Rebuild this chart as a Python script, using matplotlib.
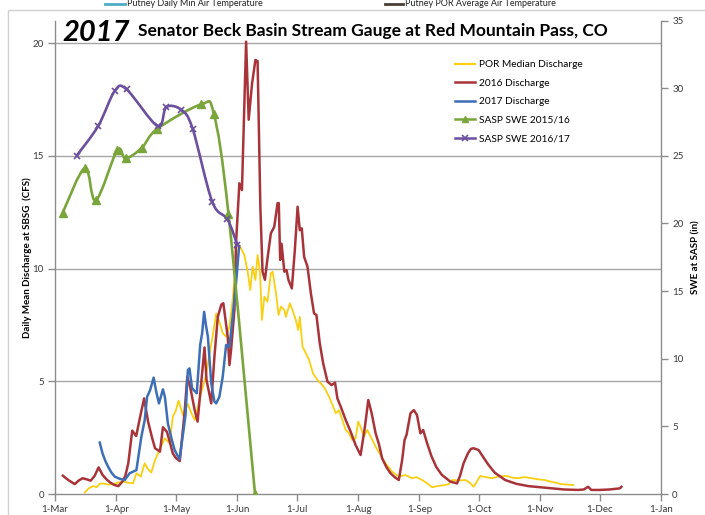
import numpy as np
import matplotlib
matplotlib.use("Agg")
import matplotlib.pyplot as plt
from matplotlib.path import Path
from matplotlib.patches import PathPatch, Rectangle
from matplotlib.lines import Line2D

plt.rcParams['font.family'] = ['Lato', 'DejaVu Sans']

# ---------------- data (x = days after 1-Mar) ----------------
month_days = [0, 31, 61, 92, 122, 153, 184, 214, 245, 275, 306]
month_labels = ['1-Mar', '1-Apr', '1-May', '1-Jun', '1-Jul', '1-Aug', '1-Sep',
                '1-Oct', '1-Nov', '1-Dec', '1-Jan']

por_days = [15.1, 17, 19.3, 21, 22.5, 24.3, 26.5, 29.3, 31.5, 34.4, 37, 39.4, 41.1, 43.3,
            45.3, 47, 48.6, 50.5, 52, 53.5, 55.4, 57.9, 59.5, 61, 62.4, 64.6, 67.1, 68.8,
            70.5, 72, 73.5, 76.3, 78, 79.7, 81.4, 83, 84.7, 86.4, 88.1, 89.7, 91.1, 93.1,
            95.6, 97.3, 98.6, 99.8, 101.2, 102.3, 103.5, 104.5, 105.7, 107.3, 109, 109.9,
            111.6, 112.9, 114.1, 115.8, 116.6, 118.6, 119.9, 121.6, 122.8, 123.6, 125,
            126.7, 128.3, 130.3, 132.5, 135, 136.7, 138.4, 140.1, 141.8, 143.4, 145.1,
            146.8, 148.5, 150.1, 151.8, 153.1, 154.3, 156, 157.7, 159.4, 161.9, 164.4,
            166.9, 170.2, 173.6, 177, 180.3, 182.5, 185.4, 187.9, 190.4, 193, 197.1, 199,
            200.5, 204, 207.2, 209.5, 211.4, 213, 214.7, 217.5, 220.6, 224, 228.2, 231,
            234, 237, 240.7, 244, 247.4, 250, 253.3, 255, 258, 261.7]
por_vals = [0.07, 0.25, 0.35, 0.3, 0.45, 0.47, 0.42, 0.43, 0.5, 0.55, 0.5, 0.47, 0.92, 0.77,
            1.36, 1.1, 0.95, 1.5, 1.8, 2.1, 2.47, 2.25, 3.43, 3.7, 4.14, 3.5, 3.99, 3.6,
            3.28, 3.8, 4.39, 5.28, 6.2, 7.05, 8.01, 7.64, 7.13, 6.98, 7.42, 8.6, 9.93, 11.04,
            10.6, 9.86, 9.05, 10.08, 9.49, 10.6, 9.86, 7.72, 8.75, 8.53, 9.79, 9.86,
            8.9, 7.94, 8.31, 8.16, 7.86, 8.46, 8.16, 7.72, 7.27, 7.86, 6.53,
            6.24, 5.94, 5.35, 5.06, 4.83, 4.61, 4.31, 3.95, 3.58, 3.72, 3.28,
            2.84, 2.69, 2.39, 2.47, 3.21, 2.98, 2.54, 2.84, 2.54, 2.1, 1.73,
            1.36, 0.99, 0.77, 0.84, 0.7, 0.75, 0.62, 0.47, 0.3, 0.35, 0.4, 0.45,
            0.62, 0.6, 0.62, 0.5, 0.32, 0.55, 0.8, 0.75, 0.7, 0.78, 0.8, 0.72,
            0.7, 0.75, 0.7, 0.65, 0.62, 0.55, 0.5, 0.45, 0.42, 0.4]

q2016_days = [4, 7, 10, 12, 14, 16, 18, 20, 22, 24, 26, 28, 30, 32, 34, 35.5, 37, 39, 41, 43,
              45, 47, 49, 50.5, 53, 54.5, 56.5, 58, 59.5, 61, 63, 65.4, 66.8, 68.4, 70.5, 72,
              73.8, 75.5, 76.5, 78.9, 80.5, 82.2, 84, 85, 86, 87.2, 88.1, 88.9, 90.6, 91.4,
              93.1, 94.4, 96.5, 97.8, 99.5, 101.2, 102.3, 103.7, 104.8, 106, 107.3, 109,
              110.7, 112.4, 113, 113.7, 114.4, 115.8, 116.9, 117.9, 119.6, 121.1, 122.5,
              123.6, 124.6, 125.8, 127.5, 129.2, 130.8, 132, 133.7, 135.4, 137.6, 139.7,
              141.4, 142.6, 144.3, 146.8, 149.3, 151.8, 154.3, 156.5, 158.2, 159.9, 161.9,
              163.6, 165.2, 167.3, 169.4, 171.5, 173.6, 175.3, 176.5, 177.5, 179.5, 181.2,
              182.8, 184.5, 185.9, 187.9, 190, 192.5, 195.4, 197.5, 199.6, 203, 204.5,
              206.3, 208.5, 210, 211.4, 213.9, 216.5, 218.9, 222, 227.3, 233, 239, 245,
              250.6, 257, 264.2, 267, 269.2, 270.8, 275, 280, 285.2, 286]
q2016_vals = [0.81, 0.6, 0.44, 0.6, 0.7, 0.65, 0.59, 0.8, 1.18, 0.85, 0.65, 0.5, 0.4, 0.35,
              0.55, 0.8, 1.36, 2.81, 2.57, 3.43, 4.24, 3.21, 2.5, 2.03, 1.88, 2.96, 2.76,
              2.3, 1.8, 1.6, 1.46, 3.58, 5.2, 4.69, 3.73, 3.21, 4.91, 6.5, 5.06, 4.02, 6.09,
              7.86, 8.4, 8.46, 7.8, 6.98, 5.72, 6.39, 8.16, 11.1, 13.78, 13.48, 20.06, 16.6,
              18.2, 19.25, 19.2, 12.7, 9.86, 9.5, 10.45, 11.56, 11.85, 12.9, 12.9, 10.38,
              11.1, 9.86, 9.93, 9.49, 9.12, 10.82, 12.74, 11.7, 11.78, 10.52, 10.08, 8.9,
              8.01, 7.94, 6.68, 5.8, 4.98, 4.83, 4.94, 4.24, 3.87, 3.28, 2.76, 2.17, 1.73,
              2.98, 4.17, 3.58, 2.69, 2.2, 1.58, 1.2, 0.92, 0.75, 0.62, 1.51, 2.39, 2.62,
              3.58, 3.72, 3.5, 2.69, 2.84, 2.25, 1.7, 1.2, 0.84, 0.7, 0.55, 0.47, 0.8,
              1.36, 1.8, 2.0, 2.03, 1.95, 1.6, 1.29, 0.95, 0.62, 0.45, 0.35, 0.3,
              0.25, 0.2, 0.18, 0.2, 0.32, 0.18, 0.18, 0.2, 0.25, 0.32]

q2017_days = [22.6, 24, 25.5, 26.8, 28.5, 30.2, 32.5, 35.2, 37.7, 39.4, 41.1, 43.6, 45.3,
              46.5, 48, 49.8, 51.2, 52.5, 54.5, 55.5, 57, 58.7, 60.4, 62.9, 64.9, 65.9,
              67.1, 67.9, 69.2, 70, 71.6, 73.3, 74.3, 75.3, 76.2, 77.2, 78.9, 80.5, 81.4,
              83, 84.7, 86.4, 88.1, 89.7, 91.4, 92.5, 93]
q2017_vals = [2.28, 1.8, 1.45, 1.21, 0.95, 0.77, 0.68, 0.62, 0.92, 0.99, 1.06, 2.54, 3.28,
              4.31, 4.6, 5.16, 4.5, 4.02, 4.64, 4.3, 3.13, 2.5, 1.95, 1.54, 2.84, 3.5,
              5.5, 5.57, 4.7, 4.61, 4.47, 6.61, 7.13, 8.08, 7.5, 6.98, 4.91, 4.1, 4.02,
              4.31, 5.2, 6.61, 6.53, 7.86, 9.34, 10.5, 11.0]

swe1516_days = [3.9, 15.1, 20.6, 31.4, 35.7, 43.9, 51.7, 73.8, 80.2, 87.6, 101]
swe1516_vals = [20.8, 24.1, 21.7, 25.4, 24.8, 25.6, 27.0, 28.8, 28.1, 20.7, 0.0]

swe1617_days = [10.9, 21.8, 30.2, 36.2, 51.8, 56.2, 63.8, 69.5, 79.4, 87.1, 92.1]
swe1617_vals = [25.0, 27.2, 29.8, 29.9, 27.2, 28.6, 28.4, 27.0, 21.6, 20.3, 18.4]

title_year = '2017'
title_text = 'Senator Beck Basin Stream Gauge at Red Mountain Pass, CO'
left_label = 'Daily Mean Discharge at SBSG  (CFS)'
right_label = 'SWE at SASP (in)'
top_labels = ['Putney Daily Min Air Temperature', 'Putney POR Average Air Temperature']

c_yel = '#F9CF12'
c_red = '#A8343A'
c_blu = '#3D6FB6'
c_grn = '#79A53B'
c_pur = '#6C4F9E'
tick_col = '#3a3a3a'


def smooth_path(xs, ys):
    pts = np.column_stack([xs, ys]).astype(float)
    n = len(pts)
    verts = [pts[0]]
    codes = [Path.MOVETO]
    for i in range(n - 1):
        p0 = pts[i - 1] if i > 0 else pts[i]
        p1 = pts[i]
        p2 = pts[i + 1]
        p3 = pts[i + 2] if i + 2 < n else pts[i + 1]
        verts += [p1 + (p2 - p0) / 6.0, p2 - (p3 - p1) / 6.0, p2]
        codes += [Path.CURVE4] * 3
    return Path(verts, codes)


W, H = 705, 515
fig = plt.figure(figsize=(W / 100, H / 100), dpi=100)
fig.patch.set_facecolor('white')

# outer chart border
fig.add_artist(Rectangle((8 / W, -0.1), 1.2, (H - 10) / H + 0.1, transform=fig.transFigure,
                         fill=False, edgecolor='#d0d0d0', lw=1.0))

# legend of the chart above (only its bottom row is visible)
fig.add_artist(Line2D([105 / W, 125 / W], [1 - 4 / H] * 2, transform=fig.transFigure,
                      color='#4BACC6', lw=2))
fig.text(127 / W, 1 - 4 / H, top_labels[0], fontsize=6.5,
         ha='left', va='center', color='#222222')
fig.add_artist(Line2D([385 / W, 403 / W], [1 - 4 / H] * 2, transform=fig.transFigure,
                      color='#4a3f35', lw=2))
fig.text(405 / W, 1 - 4 / H, top_labels[1], fontsize=6.5,
         ha='left', va='center', color='#222222')

ax_l, ax_r = 55 / W, 661 / W
ax_b, ax_t = (H - 494) / H, (H - 20.5) / H
ax = fig.add_axes([ax_l, ax_b, ax_r - ax_l, ax_t - ax_b])
ax2 = ax.twinx()

ax.set_xlim(0, 306)
ax.set_ylim(0, 21)
ax2.set_ylim(0, 35)

for y in [5, 10, 15, 20]:
    ax.axhline(y, color='#a6a6a6', lw=1.0, zorder=0)

ax.plot(por_days, por_vals, color=c_yel, lw=1.3, zorder=2)
ax.plot(q2016_days, q2016_vals, color=c_red, lw=1.8, zorder=3)
ax.plot(q2017_days, q2017_vals, color=c_blu, lw=1.8, zorder=4)

ax2.add_patch(PathPatch(smooth_path(swe1516_days, swe1516_vals), fill=False,
                        edgecolor=c_grn, lw=1.9, zorder=3))
ax2.plot(swe1516_days, swe1516_vals, ls='none', marker='^', ms=5.5, color=c_grn, zorder=4)
ax2.add_patch(PathPatch(smooth_path(swe1617_days, swe1617_vals), fill=False,
                        edgecolor=c_pur, lw=1.9, zorder=3))
ax2.plot(swe1617_days, swe1617_vals, ls='none', marker='x', ms=5, mew=1.2, color=c_pur,
         zorder=4)

# spines / ticks
for a in (ax, ax2):
    a.spines['top'].set_visible(False)
    for s in ['left', 'right', 'bottom']:
        a.spines[s].set_color('#8c8c8c')
        a.spines[s].set_linewidth(1.0)
ax.spines['right'].set_visible(False)
ax2.spines['left'].set_visible(False)
ax2.spines['bottom'].set_visible(False)

ax.set_xticks(month_days)
ax.set_xticklabels(month_labels)
ax.set_yticks([0, 5, 10, 15, 20])
ax2.set_yticks([0, 5, 10, 15, 20, 25, 30, 35])
ax.tick_params(axis='both', direction='out', length=5, width=1, color='#8c8c8c',
               labelsize=7, labelcolor=tick_col, pad=3)
ax2.tick_params(axis='y', direction='out', length=5, width=1, color='#8c8c8c',
                labelsize=7, labelcolor=tick_col, pad=3)

ax.set_ylabel(left_label, fontsize=7, fontweight='bold', color='black')
ax2.set_ylabel(right_label, fontsize=7, fontweight='bold', color='black', labelpad=6)
ax.yaxis.set_label_coords(-23 / (W * (ax_r - ax_l)), 0.5)

# title
fig.text(62 / W, (H - 33) / H, title_year, fontsize=21, fontweight='bold', style='italic',
         ha='left', va='center', color='black')
fig.text(138 / W, (H - 31) / H, title_text, fontsize=12.5, fontweight='bold',
         ha='left', va='center', color='black')

# legend
handles = [Line2D([], [], color=c_yel, lw=1.6),
           Line2D([], [], color=c_red, lw=1.8),
           Line2D([], [], color=c_blu, lw=1.8),
           Line2D([], [], color=c_grn, lw=1.8, marker='^', ms=5),
           Line2D([], [], color=c_pur, lw=1.8, marker='x', ms=5, mew=1.2)]
labels = ['POR Median Discharge', '2016 Discharge', '2017 Discharge',
          'SASP SWE 2015/16', 'SASP SWE 2016/17']
ax2.legend(handles, labels, loc='upper left', bbox_to_anchor=(455 / W, (H - 60) / H),
           bbox_transform=fig.transFigure, frameon=False, fontsize=7.3, handlelength=2.0,
           handletextpad=0.4, labelspacing=0.93, borderpad=0, borderaxespad=0)

fig.savefig('out.png', dpi=100, facecolor='white')
